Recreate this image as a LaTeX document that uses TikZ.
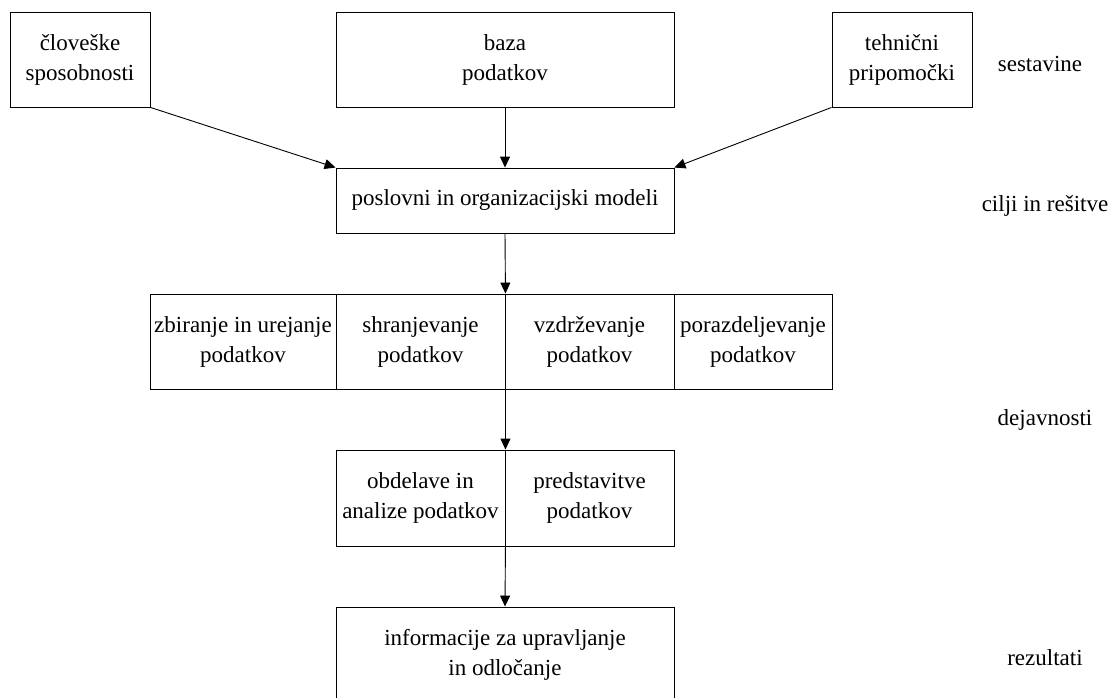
\documentclass[tikz,border=0pt]{standalone}
\usepackage{fontspec}
\setmainfont{Liberation Serif}
\usetikzlibrary{arrows.meta}
\begin{document}
\begin{tikzpicture}[x=1pt,y=-1pt,
  box/.style={draw, line width=0.9pt, rectangle, inner sep=0pt, align=center, font=\fontsize{23}{30}\selectfont},
  lab/.style={inner sep=0pt, font=\fontsize{23}{30}\selectfont},
  arr/.style={-{Triangle[length=11pt,width=10pt]}, line width=0.9pt}]
\useasboundingbox (0,0) rectangle (1108,698);
\clip (0,0) rectangle (1108,698);
% top row
\node[box, minimum width=140, minimum height=95] (A) at (80,59.5) {človeške\\sposobnosti};
\node[box, minimum width=338, minimum height=95] (B) at (505,59.5) {baza\\podatkov};
\node[box, minimum width=140, minimum height=95] (C) at (902,59.5) {tehnični\\pripomočki};
% models
\node[box, minimum width=338, minimum height=65] (D) at (505,200.5) {poslovni in organizacijski modeli};
% activities row
\node[box, minimum width=186, minimum height=95] (R1) at (243,341.5) {zbiranje in urejanje\\podatkov};
\node[box, minimum width=169, minimum height=95] (R2) at (420.5,341.5) {shranjevanje\\podatkov};
\node[box, minimum width=169, minimum height=95] (R3) at (589.5,341.5) {vzdrževanje\\podatkov};
\node[box, minimum width=158, minimum height=95] (R4) at (753,341.5) {porazdeljevanje\\podatkov};
% pair
\node[box, minimum width=169, minimum height=96] (P1) at (420.5,498) {obdelave in\\analize podatkov};
\node[box, minimum width=169, minimum height=96] (P2) at (589.5,498) {predstavitve\\podatkov};
% result
\node[box, minimum width=338, minimum height=96] (E) at (505,655) {informacije za upravljanje\\in odločanje};
% labels
\node[lab] (L1) at (1040,64) {sestavine};
\node[lab] (L2) at (1045,206) {cilji in rešitve};
\node[lab] (L3) at (1045,420) {dejavnosti};
\node[lab] (L4) at (1045,658) {rezultati};
% arrows
\draw[arr] (A.south east) -- (D.north west);
\draw[arr] (B.south) -- (D.north);
\draw[arr] (C.south west) -- (D.north east);
\draw[arr] (D.south) -- (R2.north east);
\draw[arr] (R2.south east) -- (P1.north east);
\draw[arr] (P1.south east) -- (E.north);
\end{tikzpicture}
\end{document}
